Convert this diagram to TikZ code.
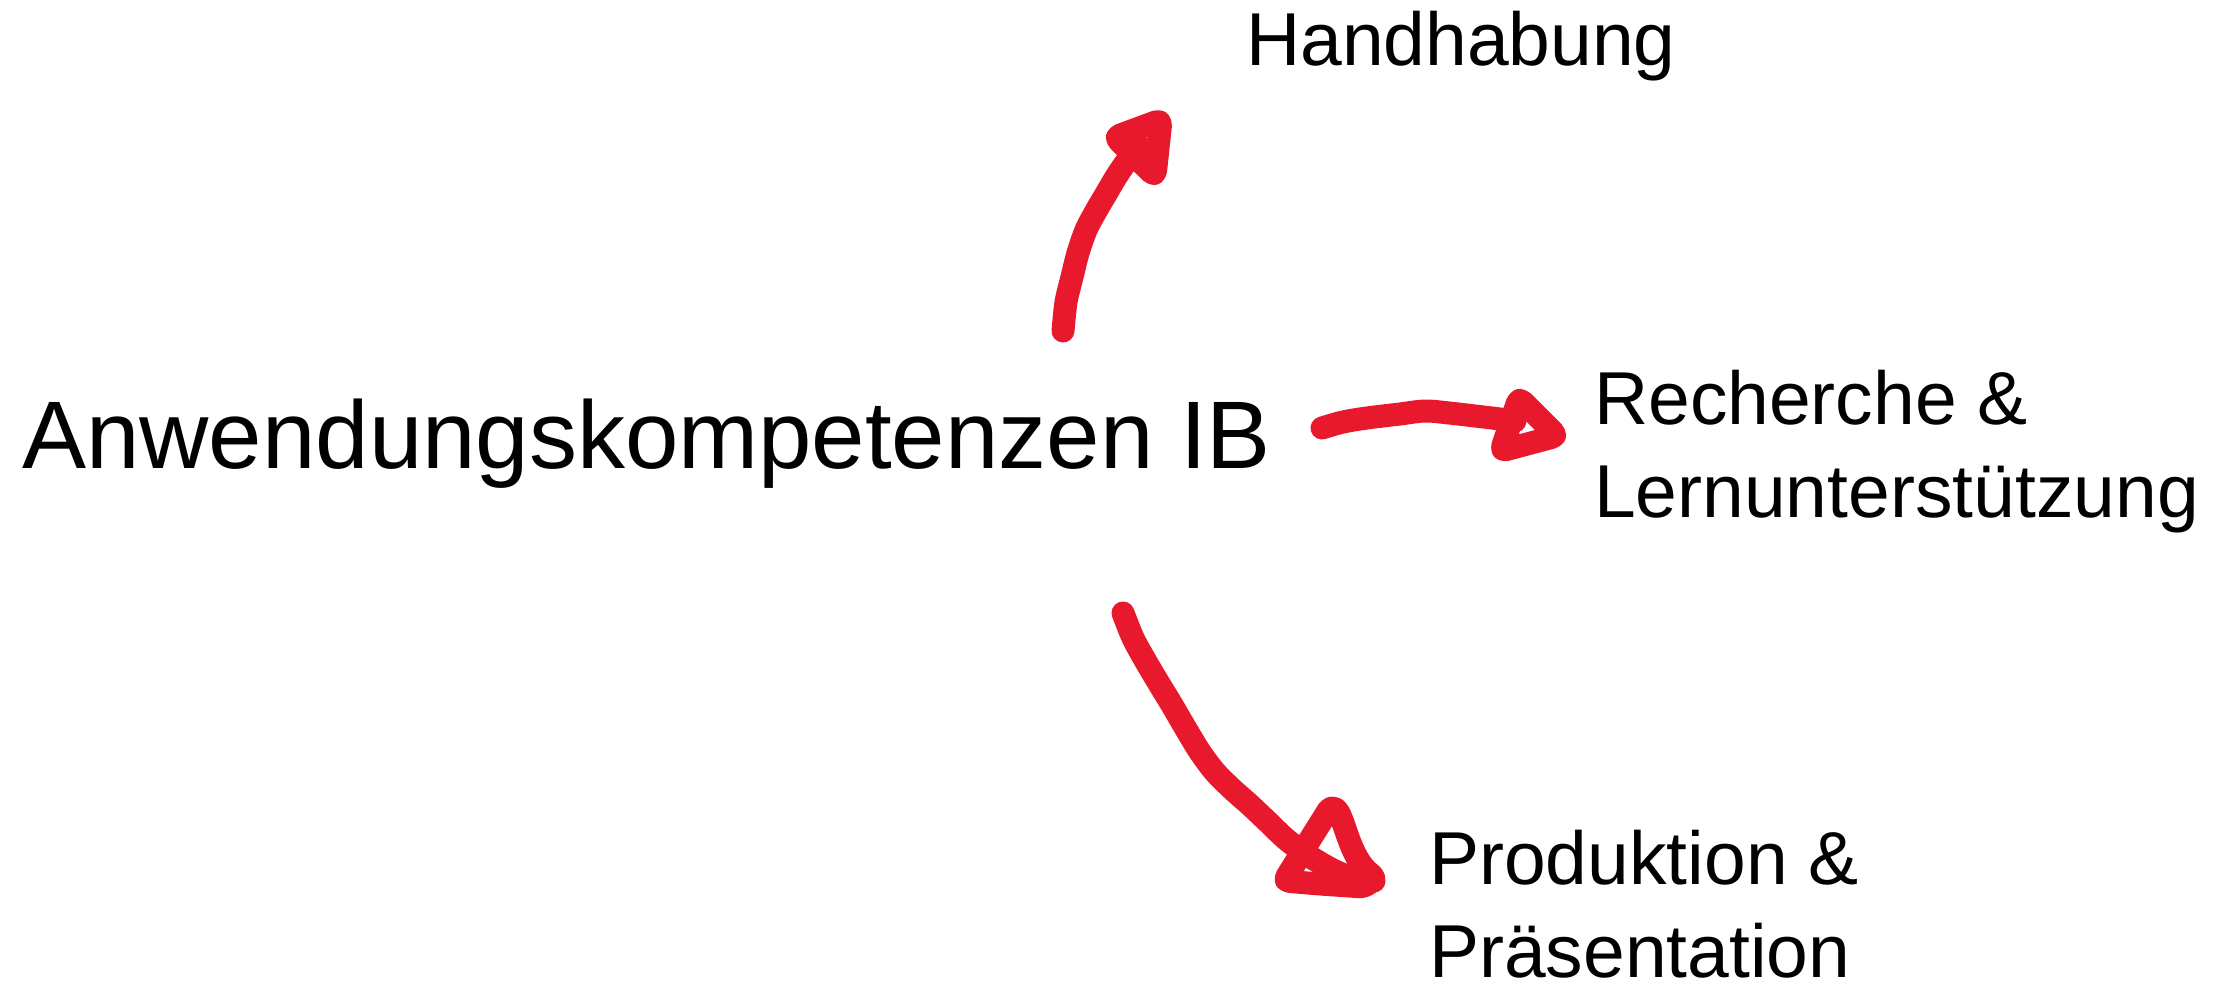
\documentclass[tikz,border=0pt]{standalone}
\usepackage{fontspec}
\setmainfont{Liberation Sans}
\definecolor{inkred}{RGB}{232,25,44}
\begin{document}
\begin{tikzpicture}[x=1pt,y=-1pt,
  pen/.style={draw=inkred, line width=23pt, line cap=round, line join=round},
  headpen/.style={pen, rounded corners=5pt},
  lbl/.style={inner sep=0pt, anchor=base west, align=left, font=\fontsize{75}{93}\selectfont},
  mainlbl/.style={inner sep=0pt, anchor=base west, font=\fontsize{96}{110}\selectfont}]
\useasboundingbox (0,0) rectangle (2226,984);
\fill[white] (0,0) rectangle (2226,984);
% texts
\node[mainlbl] (main) at (22,468) {Anwendungskompetenzen IB};
\node[lbl] (hand) at (1246,66) {Handhabung};
\node[lbl] (rech) at (1594,517) {Recherche \&\\Lernunterstützung};
\node[lbl] (prod) at (1429,977) {Produktion \&\\Präsentation};
% arrow to Handhabung
\coordinate (s1) at (1063,331);
\coordinate (e1) at (1140,147);
\draw[pen] plot[smooth, tension=0.5] coordinates {(s1) (1066,302) (1072,277) (1078,253) (1086,230) (1096,211) (1106,194) (1116,177) (1127,161) (e1)};
\draw[headpen] (1115,137) -- (1161,120) -- (1155,176) -- cycle;
% arrow to Recherche
\coordinate (s2) at (1322,428);
\coordinate (e2) at (1515,421);
\draw[pen] plot[smooth, tension=0.55] coordinates {(s2) (1343,422) (1367,418) (1400,414) (1425,411) (1449,413) (1475,416) (1500,419) (e2)};
\draw[headpen] (1519,398) -- (1557,436) -- (1501,451) -- cycle;
% arrow to Produktion
\coordinate (s3) at (1123,613);
\coordinate (e3) at (1374,881);
\draw[pen] plot[smooth, tension=0.5] coordinates {(s3) (1133,638) (1145,660) (1158,682) (1172,705) (1186,729) (1200,752) (1215,772) (1232,789) (1250,805) (1268,822) (1287,840) (1309,856) (1333,870) (1356,879) (e3)};
\draw[headpen] (1284,881) -- (1331,806) .. controls (1345,815) and (1348,858) .. (1376,878) -- (1364,887) -- (1320,884) -- cycle;
\end{tikzpicture}
\end{document}
